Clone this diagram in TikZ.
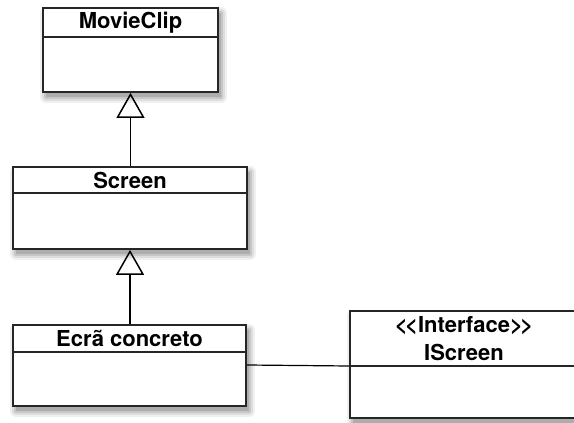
\documentclass[tikz,border=0pt]{standalone}
\usepackage{fontspec}
\setmainfont{TeX Gyre Heros}
\usetikzlibrary{arrows.meta}
\begin{document}
\begin{tikzpicture}[x=1pt,y=-1pt,
  classbox/.style={draw=black!85, line width=1.8pt, fill=white, inner sep=0pt},
  % soft drop shadow: widest, lightest stroke first, darkest fill last
  shadowA/.style={draw=black!6, fill=black!6, line width=12pt, line join=round},
  shadowB/.style={draw=black!13, fill=black!13, line width=8pt, line join=round},
  shadowC/.style={draw=black!22, fill=black!22, line width=4pt, line join=round},
  shadowD/.style={fill=black!32},
  divider/.style={draw=black!85, line width=1.5pt},
  title/.style={font=\fontsize{22}{28}\selectfont\bfseries, inner sep=0pt, align=center},
  inherit/.style={line width=1.5pt, -{Triangle[open, length=25pt, width=28pt, line width=1.5pt]}},
  assoc/.style={line width=1.2pt}]
\useasboundingbox (0,0) rectangle (574,423);

% shadows under the class boxes, offset down and right
\path[shadowA] (46,13) rectangle (221,97);
\path[shadowB] (46,13) rectangle (221,97);
\path[shadowC] (46,13) rectangle (221,97);
\path[shadowD] (46,13) rectangle (221,97);

\path[shadowA] (16,172) rectangle (250,254);
\path[shadowB] (16,172) rectangle (250,254);
\path[shadowC] (16,172) rectangle (250,254);
\path[shadowD] (16,172) rectangle (250,254);

\path[shadowA] (16,330) rectangle (249,411);
\path[shadowB] (16,330) rectangle (249,411);
\path[shadowC] (16,330) rectangle (249,411);
\path[shadowD] (16,330) rectangle (249,411);

\path[shadowA] (353,316) rectangle (581,423);
\path[shadowB] (353,316) rectangle (581,423);
\path[shadowC] (353,316) rectangle (581,423);
\path[shadowD] (353,316) rectangle (581,423);

% MovieClip
\node[classbox, minimum width=175pt, minimum height=84pt] (movie) at (130.5,50) {};
\coordinate (movie-d) at (movie.west |- 0,37);
\draw[divider] (movie-d) -- (movie-d -| movie.east);
\node[title] (movie-t) at (130.5,22.5) {MovieClip};

% Screen
\node[classbox, minimum width=234pt, minimum height=82pt] (screen) at (130,208) {};
\coordinate (screen-d) at (screen.west |- 0,193);
\draw[divider] (screen-d) -- (screen-d -| screen.east);
\node[title] (screen-t) at (130,180) {Screen};

% Ecrã concreto
\node[classbox, minimum width=233pt, minimum height=81pt] (ecra) at (129.5,365.5) {};
\coordinate (ecra-d) at (ecra.west |- 0,352);
\draw[divider] (ecra-d) -- (ecra-d -| ecra.east);
\node[title] (ecra-t) at (129.5,338.5) {Ecrã concreto};

% IScreen interface
\node[classbox, minimum width=228pt, minimum height=107pt] (iscreen) at (464,364.5) {};
\coordinate (iscreen-d) at (iscreen.west |- 0,366);
\draw[divider] (iscreen-d) -- (iscreen-d -| iscreen.east);
\node[title] (iscreen-t) at (464,339) {<\kern-2.5pt<Interface>\kern-2.5pt>\\IScreen};

% generalisations
\draw[inherit] (screen.north -| movie.south) -- (movie.south);
\draw[inherit] (ecra.north -| screen.south) -- (screen.south);

% association
\draw[assoc] (ecra.east |- 0,365) -- (iscreen-d);
\end{tikzpicture}
\end{document}
